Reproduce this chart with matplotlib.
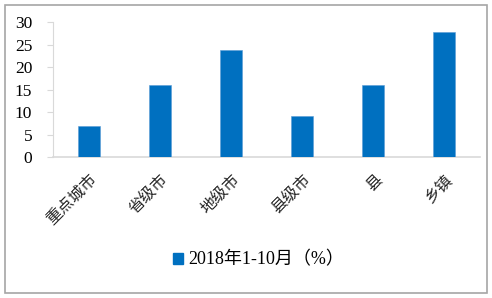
import matplotlib
matplotlib.use("Agg")
import matplotlib.pyplot as plt
from matplotlib.patches import Rectangle, Patch

# data
categories = ["重点城市", "省级市", "地级市", "县级市", "县", "乡镇"]
values = [6.9, 15.9, 23.9, 9.1, 16.1, 27.8]
yticks = [0, 5, 10, 15, 20, 25, 30]
series_label = "2018年1-10月（%）"

plt.rcParams["font.family"] = ["Liberation Serif", "Noto Sans CJK SC"]

BLUE = "#0070c0"
GRID = "#d9d9d9"

fig = plt.figure(figsize=(4.92, 2.98), dpi=100)
ax = fig.add_axes([0.1077, 0.473, 0.8679, 0.453])

x = list(range(len(categories)))
ax.bar(x, values, width=0.31, color=BLUE, edgecolor="#5b9bd5", linewidth=0.4, zorder=3)

ax.set_xlim(-0.5, len(categories) - 0.5)
ax.set_ylim(0, 30)
ax.set_yticks(yticks)
ax.set_yticklabels([str(t) for t in yticks], fontsize=12.5, color="black")
ax.tick_params(axis="y", length=4, width=0.8, color=GRID, pad=11)

ax.set_xticks(x)
ax.set_xticklabels(categories, rotation=45, ha="right", rotation_mode="anchor",
                   fontsize=11.5, family=["Noto Sans CJK SC"], color="#262626")
ax.tick_params(axis="x", length=0, pad=10)

for side in ["top", "right"]:
    ax.spines[side].set_visible(False)
ax.spines["left"].set_color(GRID)
ax.spines["bottom"].set_color(GRID)
ax.spines["left"].set_linewidth(0.8)
ax.spines["bottom"].set_linewidth(1.2)

handle = Patch(facecolor=BLUE, edgecolor=BLUE)
leg = fig.legend([handle], [series_label], loc="center", bbox_to_anchor=(0.525, 0.128),
                 frameon=False, fontsize=13, handlelength=0.55, handleheight=0.55,
                 handletextpad=0.3)

# outer grey frame around the picture
fig.patches.append(Rectangle((5 / 492, 5 / 298), 482 / 492, 288 / 298,
                             transform=fig.transFigure, fill=False,
                             edgecolor="#a6a6a6", linewidth=1.2))

fig.savefig("out.png", dpi=100, facecolor="white")
